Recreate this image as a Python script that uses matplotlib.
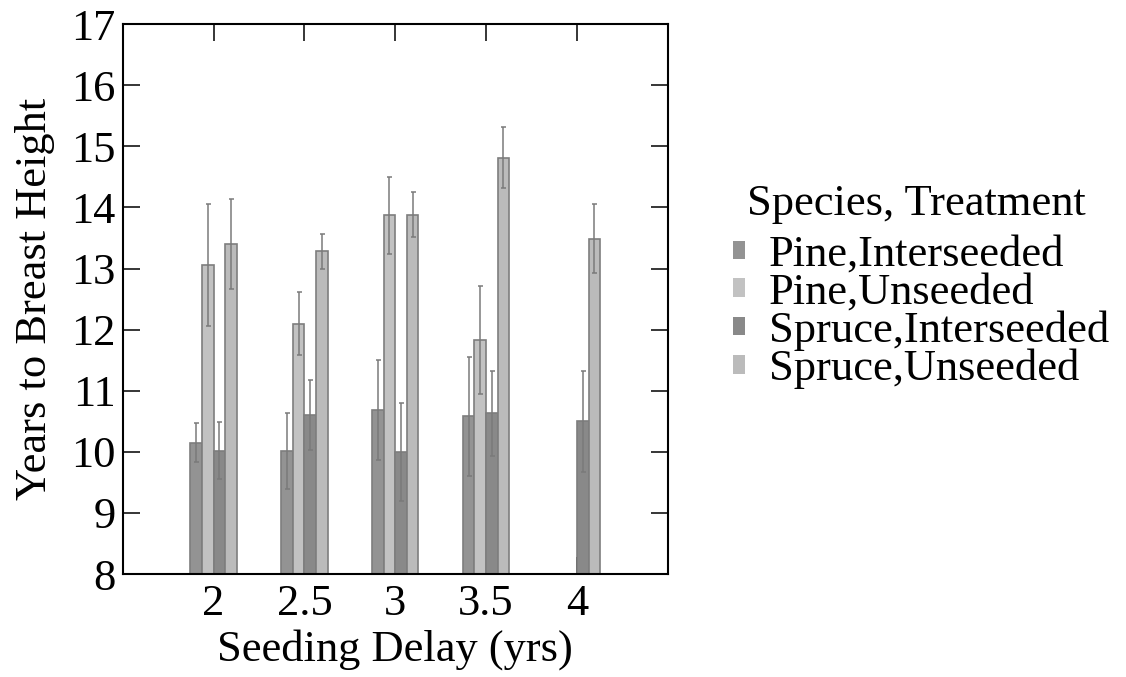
import numpy as np
import matplotlib
matplotlib.use('Agg')
import matplotlib.pyplot as plt

plt.rcParams['font.family'] = ['Liberation Serif', 'DejaVu Serif']

# Seeding delay groups (yrs)
delays = [2, 2.5, 3, 3.5, 4]

series_names = ['Pine,Interseeded', 'Pine,Unseeded',
                'Spruce,Interseeded', 'Spruce,Unseeded']

# Mean years to breast height (nan = no data)
pine_inter = [10.15, 10.02, 10.69, 10.58, np.nan]
pine_unseed = [13.06, 12.10, 13.87, 11.83, np.nan]
spruce_inter = [10.02, 10.60, 10.00, 10.63, 10.50]
spruce_unseed = [13.40, 13.28, 13.88, 14.81, 13.49]

# error bar half-widths
pine_inter_err = [0.32, 0.62, 0.82, 0.97, np.nan]
pine_unseed_err = [1.00, 0.51, 0.63, 0.88, np.nan]
spruce_inter_err = [0.47, 0.57, 0.80, 0.70, 0.83]
spruce_unseed_err = [0.73, 0.29, 0.37, 0.50, 0.56]

means = [pine_inter, pine_unseed, spruce_inter, spruce_unseed]
errs = [pine_inter_err, pine_unseed_err, spruce_inter_err, spruce_unseed_err]
colors = ['#939393', '#c2c2c2', '#898989', '#bbbbbb']

fig = plt.figure(figsize=(11.26, 6.77), dpi=100)
ax = fig.add_axes([0.109, 0.152, 0.484, 0.8125])

width = 0.064
x = np.array(delays)
for i in range(4):
    offs = (i - 1.5) * width
    ax.bar(x + offs, means[i], width, bottom=0, color=colors[i],
           edgecolor='#7e7e7e', linewidth=1.2, label=series_names[i])
    ax.errorbar(x + offs, means[i], yerr=errs[i], fmt='none',
                ecolor='#7a7a7a', elinewidth=1.1, capsize=1.8, capthick=1.1)

ax.set_xlim(1.5, 4.5)
ax.set_ylim(8, 17)
ax.set_xticks(delays)
ax.set_xticklabels(['2', '2.5', '3', '3.5', '4'])
ax.set_yticks(range(8, 18))
ax.set_axisbelow(True)

ax.tick_params(direction='in', length=12, width=1.1, top=True, right=True,
               labelsize=32, colors='black')
ax.tick_params(axis='x', pad=7)
ax.tick_params(axis='y', pad=5)
for s in ax.spines.values():
    s.set_linewidth(1.5)

ax.set_xlabel('Seeding Delay (yrs)', fontsize=32, labelpad=4)
ax.set_ylabel('Years to Breast Height', fontsize=32, labelpad=12)

# legend title drawn separately so the gap above the rows can be set
fig.text(0.8135, 0.6824, 'Species, Treatment', fontsize=32,
         ha='center', va='baseline')
leg = ax.legend(fontsize=32, loc='upper left', bbox_to_anchor=(0.651, 0.653),
                bbox_transform=fig.transFigure, frameon=False,
                borderpad=0, borderaxespad=0, labelspacing=-0.05,
                handlelength=0.27, handleheight=0.27, handletextpad=0.54)
for h in leg.legend_handles:
    h.set_edgecolor('none')

fig.savefig('out.png', dpi=100)
